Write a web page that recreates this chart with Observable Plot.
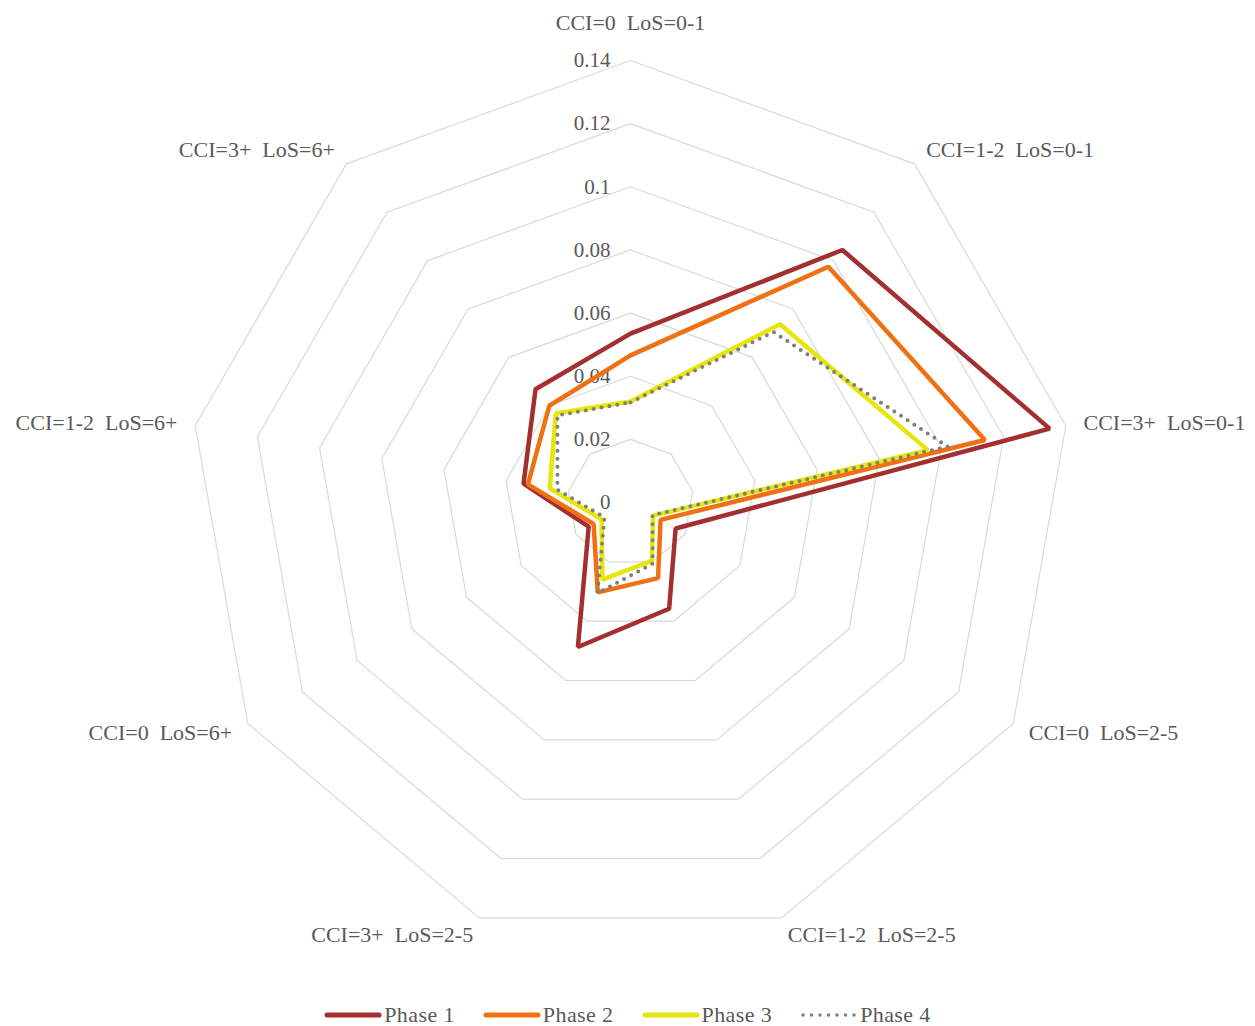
<!DOCTYPE html>
<html>
<head>
<meta charset="utf-8">
<script src="https://cdn.jsdelivr.net/npm/d3@7"></script>
<script src="https://cdn.jsdelivr.net/npm/@observablehq/plot@0.6"></script>
<style>
  html, body { margin: 0; padding: 0; background: #fff; }
  #chart svg text { white-space: pre; }
  #chart svg text.cat { letter-spacing: 0.4px; }
  #legend { display: flex; justify-content: center; align-items: center; height: 38px;
    font-family: "Liberation Serif", serif; font-size: 22px; color: #595959; letter-spacing: 0.4px; }
  .item { display: flex; align-items: center; margin: 0 14px; }
  .item svg { margin-right: 2px; }
</style>
</head>
<body>
<div id="chart"></div>
<div id="legend"></div>
<script>
const categories = [
  "CCI=0  LoS=0-1", "CCI=1-2  LoS=0-1", "CCI=3+  LoS=0-1",
  "CCI=0  LoS=2-5", "CCI=1-2  LoS=2-5", "CCI=3+  LoS=2-5",
  "CCI=0  LoS=6+", "CCI=1-2  LoS=6+", "CCI=3+  LoS=6+"
];
const phase1 = [0.0535, 0.1044, 0.1348, 0.0165, 0.0358, 0.0487, 0.0153, 0.0344, 0.0468];
const phase2 = [0.0466, 0.0975, 0.1140, 0.0110, 0.0255, 0.0303, 0.0135, 0.0330, 0.0400];
const phase3 = [0.0320, 0.0737, 0.0956, 0.0083, 0.0197, 0.0260, 0.0106, 0.0260, 0.0368];
const phase4 = [0.0317, 0.0705, 0.1020, 0.0080, 0.0206, 0.0306, 0.0095, 0.0235, 0.0360];
const seriesNames = ["Phase 1", "Phase 2", "Phase 3", "Phase 4"];
const seriesColors = ["#a3302f", "#f07113", "#e6e60a", "#7f7f7f"];
const tickValues = [0, 0.02, 0.04, 0.06, 0.08, 0.1, 0.12, 0.14];
const tickLabels = ["0", "0.02", "0.04", "0.06", "0.08", "0.1", "0.12", "0.14"];

const W = 1255, H = 996, cx = 630, cy = 502;
const maxV = 0.14, outerPx = 442;
const k = outerPx / maxV;
const n = categories.length;
const ang = i => i * 2 * Math.PI / n;

const allSeries = [phase1, phase2, phase3, phase4];
const pts = [];
allSeries.forEach((arr, s) => arr.forEach((v, i) => pts.push({
  series: seriesNames[s], x: v * Math.sin(ang(i)), y: v * Math.cos(ang(i))
})));

const rings = [];
tickValues.filter(t => t > 0).forEach(t => {
  for (let i = 0; i < n; i++) rings.push({t, x: t * Math.sin(ang(i)), y: t * Math.cos(ang(i))});
});

const labelR = 460 / k;
const labels = categories.map((c, i) => ({
  c, s: Math.sin(ang(i)), x: labelR * Math.sin(ang(i)), y: labelR * Math.cos(ang(i))
}));
const ticks = tickValues.map((t, i) => ({t, label: tickLabels[i]}));

const font = "Liberation Serif";
const txt = {fill: "#595959", fontSize: 21, fontFamily: font};
const cat = {fill: "#595959", fontSize: 22, fontFamily: font, className: "cat"};

const lineMark = (name, color, extra) => Plot.line(pts.filter(d => d.series === name), {
  x: "x", y: "y", stroke: color, strokeWidth: 4.5, curve: "linear-closed",
  strokeLinejoin: "miter", ...extra
});

const chart = Plot.plot({
  width: W, height: H,
  marginTop: 0, marginBottom: 0, marginLeft: 0, marginRight: 0,
  x: {domain: [-cx / k, (W - cx) / k], range: [0, W], axis: null},
  y: {domain: [-(H - cy) / k, cy / k], range: [H, 0], axis: null},
  style: {fontFamily: font, background: "#fff"},
  marks: [
    Plot.line(rings, {x: "x", y: "y", z: "t", stroke: "#d9d9d9", strokeWidth: 1.2, curve: "linear-closed"}),
    Plot.text(ticks, {x: () => 0, y: "t", text: "label", dx: -20, textAnchor: "end", ...txt}),
    lineMark("Phase 1", seriesColors[0]),
    lineMark("Phase 2", seriesColors[1]),
    lineMark("Phase 3", seriesColors[2]),
    lineMark("Phase 4", seriesColors[3], {strokeWidth: 4, strokeDasharray: "0,8", strokeLinecap: "round", strokeLinejoin: "round"}),
    Plot.text(labels.filter(d => Math.abs(d.s) < 0.1), {x: "x", y: "y", text: "c", dy: -20, textAnchor: "middle", ...cat}),
    Plot.text(labels.filter(d => d.s >= 0.1), {x: "x", y: "y", text: "c", textAnchor: "start", ...cat}),
    Plot.text(labels.filter(d => d.s <= -0.1), {x: "x", y: "y", text: "c", textAnchor: "end", ...cat})
  ]
});
document.getElementById("chart").appendChild(chart);

const legend = document.getElementById("legend");
seriesNames.forEach((name, i) => {
  const item = document.createElement("div");
  item.className = "item";
  const dotted = i === 3;
  item.innerHTML = `<svg width="58" height="12"><line x1="3" y1="6" x2="55" y2="6" stroke="${seriesColors[i]}"
    stroke-width="${dotted ? 3.5 : 5}" stroke-linecap="round" ${dotted ? 'stroke-dasharray="0,8.5"' : ''}/></svg><span>${name}</span>`;
  legend.appendChild(item);
});
</script>
</body>
</html>
